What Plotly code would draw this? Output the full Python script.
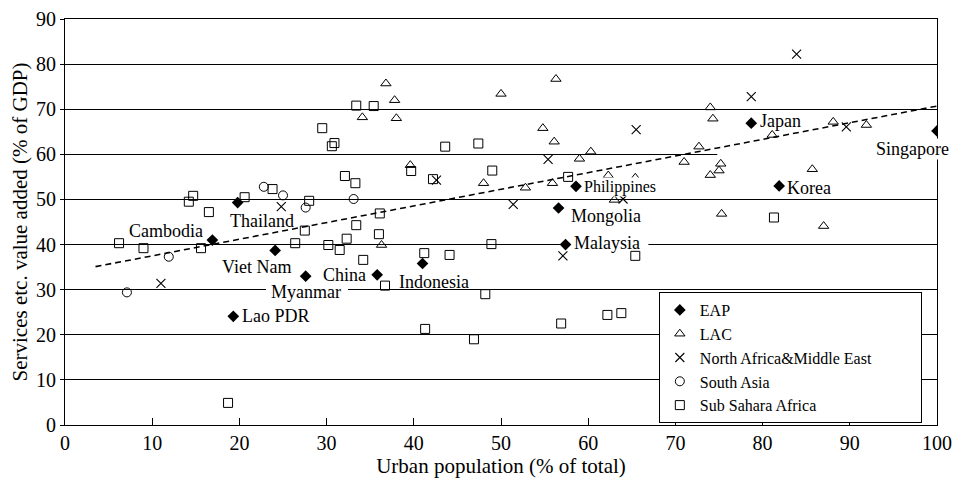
import plotly.graph_objects as go

# ---- data: urban population share (x, %) vs services value added (y, % of GDP)
eap_names = ["Cambodia", "Thailand", "Viet Nam", "Myanmar", "Lao PDR", "China",
             "Indonesia", "Malaysia", "Mongolia", "Philippines", "Japan", "Korea",
             "Singapore"]
eap_x = [16.9, 19.8, 24.1, 27.6, 19.3, 35.8, 41.0, 57.4, 56.6, 58.6, 78.7, 81.9, 100.0]
eap_y = [41.0, 49.3, 38.7, 33.0, 24.1, 33.3, 35.8, 40.0, 48.1, 52.9, 66.9, 53.0, 65.2]

lac_x = [36.8, 37.8, 34.1, 38.0, 50.0, 56.3, 54.8, 56.1, 59.0, 60.3, 62.3, 39.6,
         48.0, 52.8, 55.9, 63.0, 65.4, 71.0, 72.7, 74.0, 75.0, 75.2, 75.3, 74.0,
         74.3, 81.1, 88.1, 91.9, 85.7, 87.0, 36.3]
lac_y = [75.7, 72.0, 68.2, 68.0, 73.4, 76.7, 65.8, 62.8, 59.0, 60.6, 55.3, 57.6,
         53.6, 52.6, 53.6, 49.9, 54.8, 58.3, 61.7, 55.4, 56.4, 57.9, 46.8, 70.4,
         67.9, 64.3, 67.2, 66.5, 56.7, 44.1, 39.9]

name_x = [24.8, 11.0, 42.6, 55.4, 51.4, 64.0, 65.5, 83.9, 78.7, 89.6, 57.1]
name_y = [48.4, 31.4, 54.3, 58.9, 48.9, 50.1, 65.5, 82.2, 72.8, 66.1, 37.5]

sa_x = [7.1, 11.9, 22.8, 25.0, 27.6, 33.1]
sa_y = [29.4, 37.3, 52.8, 50.9, 48.2, 50.1]

ssa_x = [6.2, 9.0, 14.2, 14.7, 15.6, 16.5, 18.7, 20.6, 23.8, 26.4, 27.5, 28.0,
         29.5, 30.2, 30.6, 30.9, 31.5, 32.1, 32.3, 33.3, 33.4, 33.4, 34.2, 35.4,
         36.0, 36.1, 36.7, 39.7, 41.2, 41.3, 42.2, 43.6, 44.1, 46.9, 47.4, 48.2,
         48.9, 49.0, 56.9, 57.7, 62.2, 63.8, 65.4, 81.3]
ssa_y = [40.3, 39.2, 49.5, 50.8, 39.2, 47.2, 4.9, 50.5, 52.3, 40.3, 43.1, 49.7,
         65.8, 39.9, 61.8, 62.5, 38.8, 55.2, 41.3, 53.6, 44.3, 70.8, 36.6, 70.7,
         42.3, 46.9, 30.9, 56.3, 38.1, 21.3, 54.5, 61.7, 37.7, 19.0, 62.4, 29.0,
         40.1, 56.4, 22.5, 55.0, 24.4, 24.8, 37.5, 46.0]

trend_x = [3.5, 100.0]
trend_y = [35.1, 70.7]

x_ticks = [0, 10, 20, 30, 40, 50, 60, 70, 80, 90, 100]
y_ticks = [0, 10, 20, 30, 40, 50, 60, 70, 80, 90]

SERIF = "Liberation Serif, Times New Roman, serif"
PAD = "\u00a0" * 11   # widens the legend box a little

fig = go.Figure()

fig.add_trace(go.Scatter(
    x=trend_x, y=trend_y, mode="lines", showlegend=False, hoverinfo="skip",
    line=dict(color="black", width=1.6, dash="6px,4px")))

fig.add_trace(go.Scatter(
    x=eap_x, y=eap_y, text=eap_names, mode="markers", name="EAP",
    marker=dict(symbol="diamond", size=9, color="black", line=dict(width=0))))
fig.add_trace(go.Scatter(
    x=lac_x, y=lac_y, mode="markers", name="LAC",
    marker=dict(symbol="triangle-up-open", size=9, color="black",
                line=dict(width=1, color="black"))))
fig.add_trace(go.Scatter(
    x=name_x, y=name_y, mode="markers", name="North Africa&Middle East" + PAD,
    marker=dict(symbol="x-thin-open", size=9, color="black",
                line=dict(width=1.1, color="black"))))
fig.add_trace(go.Scatter(
    x=sa_x, y=sa_y, mode="markers", name="South Asia",
    marker=dict(symbol="circle-open", size=9, color="black",
                line=dict(width=1, color="black"))))
fig.add_trace(go.Scatter(
    x=ssa_x, y=ssa_y, mode="markers", name="Sub Sahara Africa",
    marker=dict(symbol="square-open", size=9, color="black",
                line=dict(width=1, color="black"))))

# country label placement: (xanchor, xshift px, yshift px, font size, white box)
label_style = {
    "Cambodia":    ("right", -7, 9, 18, False),
    "Thailand":    ("left", -10, -18, 18, False),
    "Viet Nam":    ("center", -19, -17, 18, False),
    "Myanmar":     ("center", 0, -16, 18, False),
    "Lao PDR":     ("left", 7, 0, 18, False),
    "China":       ("right", -9, 0, 18, False),
    "Indonesia":   ("center", 11, -18, 18, False),
    "Malaysia":    ("left", 6, 2, 18, False),
    "Mongolia":    ("left", 10, -8, 18, False),
    "Philippines": ("left", 7, -1, 16, True),
    "Japan":       ("left", 7, 2, 18, False),
    "Korea":       ("left", 6, -2, 18, False),
    "Singapore":   ("right", 13, -18, 18, True),
}

for name, x, y in zip(eap_names, eap_x, eap_y):
    anchor, dx, dy, fs, boxed = label_style[name]
    ann = dict(x=x, y=y, xref="x", yref="y", text=name, showarrow=False,
               xanchor=anchor, yanchor="middle", xshift=dx, yshift=dy,
               font=dict(family=SERIF, size=fs, color="black"))
    if boxed:
        ann.update(bgcolor="white", borderpad=0)
    fig.add_annotation(**ann)

# gridline breaks behind labels that sit on a gridline: (gridline, from x, to x)
label_gaps = [(30, 23.05, 32.45),   # Myanmar
              (40, 56.8, 66.9),     # Malaysia
              (60, 74.8, 100.0)]    # Singapore
for gy, gx0, gx1 in label_gaps:
    fig.add_shape(type="rect", xref="x", yref="y", x0=gx0, x1=gx1,
                  y0=gy - 0.7, y1=gy + 0.7, fillcolor="white",
                  line=dict(width=0), layer="between")

fig.update_layout(
    width=953, height=478,
    margin=dict(l=65, r=16, t=19, b=53, autoexpand=False),
    paper_bgcolor="white", plot_bgcolor="white",
    font=dict(family=SERIF, size=20, color="black"),
    legend=dict(
        x=0.681, y=0.3276, xanchor="left", yanchor="top",
        bgcolor="white", bordercolor="black", borderwidth=1,
        font=dict(family=SERIF, size=16, color="black"),
        itemsizing="trace", tracegroupgap=0),
)

fig.update_xaxes(
    range=[0, 100], tickvals=x_ticks, ticktext=[str(v) for v in x_ticks],
    showgrid=False, zeroline=False, automargin=False,
    showline=True, linecolor="black", linewidth=1, mirror=True,
    ticks="inside", ticklen=7, tickcolor="black", tickwidth=1,
    tickfont=dict(family=SERIF, size=20, color="black"),
    title=dict(text="Urban population (% of total)", standoff=10,
               font=dict(family=SERIF, size=21, color="black")),
)
fig.update_yaxes(
    range=[0, 90], tickvals=y_ticks, ticktext=[str(v) for v in y_ticks],
    showgrid=True, gridcolor="black", gridwidth=1, zeroline=False, automargin=False,
    showline=True, linecolor="black", linewidth=1, mirror=True,
    ticks="outside", ticklen=4, tickcolor="black", tickwidth=1,
    tickfont=dict(family=SERIF, size=20, color="black"),
    title=dict(text="Services etc. value added (% of GDP)", standoff=2,
               font=dict(family=SERIF, size=21, color="black")),
)

fig.write_html("out.html")
